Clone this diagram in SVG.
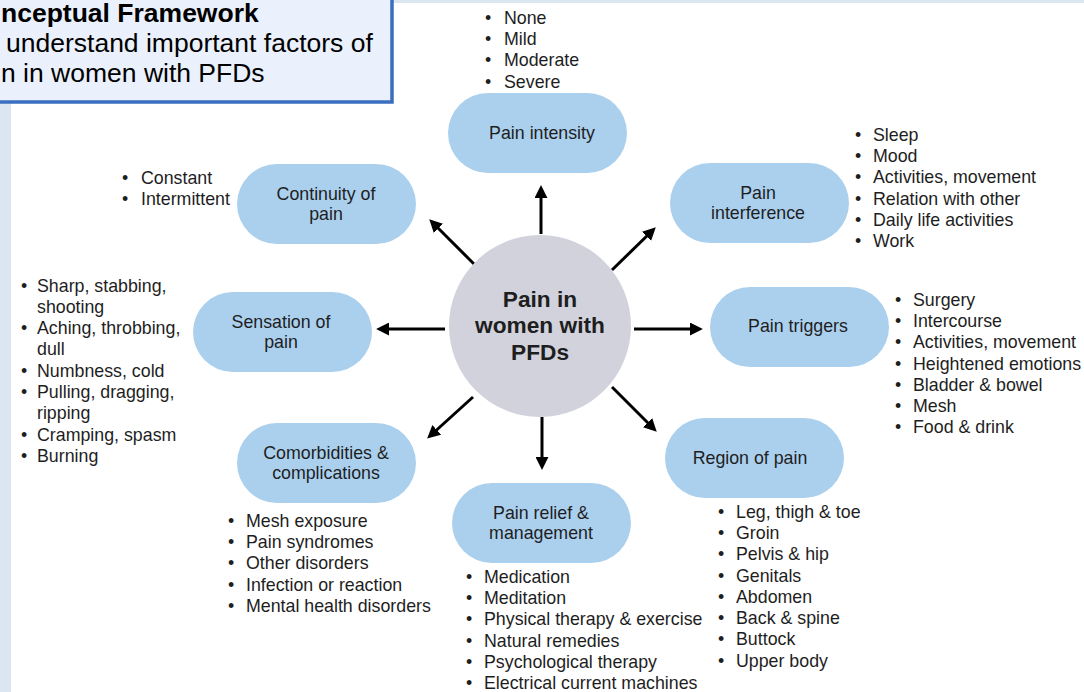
<svg xmlns="http://www.w3.org/2000/svg" width="1084" height="692" viewBox="0 0 1084 692">
<defs>
<marker id="ah" viewBox="0 0 10 10" refX="7" refY="5" markerWidth="13" markerHeight="13" markerUnits="userSpaceOnUse" orient="auto">
<path d="M0,0 L10,5 L0,10 z" fill="#000"/>
</marker>
</defs>
<style>
text{font-family:"Liberation Sans",Arial,sans-serif;fill:#1e1e1e}
.lbl{font-size:17.8px;text-anchor:middle}
.li{font-size:17.8px}
.pill{fill:#abd0ee}
.arr{stroke:#000;stroke-width:3;fill:none;marker-end:url(#ah)}
.ttl{font-size:26.5px;fill:#000}
</style>
<rect x="0" y="0" width="1084" height="692" fill="#ffffff"/>
<rect x="0" y="0" width="11" height="692" fill="#dce6f2"/>
<rect x="0" y="0" width="1084" height="3" fill="#dce6f2"/>

<g id="title">
<rect x="-10" y="-10" width="402" height="112" fill="#eaf0fc" stroke="#3a6fbf" stroke-width="3.5"/>
<text class="ttl" x="1" y="22" font-weight="bold">nceptual Framework</text>
<text class="ttl" x="6" y="52">understand important factors of</text>
<text class="ttl" x="1" y="82">n in women with PFDs</text>
</g>

<g id="connectors">
<line class="arr" x1="541" y1="234" x2="541" y2="189"/>
<line class="arr" x1="474" y1="264" x2="432" y2="222"/>
<line class="arr" x1="612" y1="270" x2="653" y2="230"/>
<line class="arr" x1="445" y1="329" x2="380" y2="329"/>
<line class="arr" x1="634" y1="329" x2="699" y2="329"/>
<line class="arr" x1="473" y1="397" x2="430" y2="436"/>
<line class="arr" x1="612" y1="387" x2="654" y2="429"/>
<line class="arr" x1="542" y1="417" x2="542" y2="466"/>
</g>

<g id="center">
<circle cx="540" cy="326" r="91" fill="#d1d2dc"/>
<text x="540" y="307" font-size="22.7" font-weight="bold" text-anchor="middle" fill="#111">Pain in</text>
<text x="540" y="333" font-size="22.7" font-weight="bold" text-anchor="middle" fill="#111">women with</text>
<text x="540" y="360" font-size="22.7" font-weight="bold" text-anchor="middle" fill="#111">PFDs</text>
</g>

<g id="pain-intensity">
<rect class="pill" x="448" y="93" width="179" height="80" rx="40"/>
<text class="lbl" x="542" y="139">Pain intensity</text>
<text class="li" x="485" y="24">•</text><text class="li" x="504" y="24">None</text>
<text class="li" x="485" y="45">•</text><text class="li" x="504" y="45">Mild</text>
<text class="li" x="485" y="66">•</text><text class="li" x="504" y="66">Moderate</text>
<text class="li" x="485" y="88">•</text><text class="li" x="504" y="88">Severe</text>
</g>

<g id="continuity">
<rect class="pill" x="237" y="164" width="179" height="80" rx="40"/>
<text class="lbl" x="326" y="200">Continuity of</text>
<text class="lbl" x="326" y="220">pain</text>
<text class="li" x="122" y="184">•</text><text class="li" x="141" y="184">Constant</text>
<text class="li" x="122" y="205">•</text><text class="li" x="141" y="205">Intermittent</text>
</g>

<g id="interference">
<rect class="pill" x="670" y="163" width="179" height="80" rx="40"/>
<text class="lbl" x="758" y="199">Pain</text>
<text class="lbl" x="758" y="219">interference</text>
<text class="li" x="855" y="141">•</text><text class="li" x="873" y="141">Sleep</text>
<text class="li" x="855" y="162">•</text><text class="li" x="873" y="162">Mood</text>
<text class="li" x="855" y="183">•</text><text class="li" x="873" y="183">Activities, movement</text>
<text class="li" x="855" y="205">•</text><text class="li" x="873" y="205">Relation with other</text>
<text class="li" x="855" y="226">•</text><text class="li" x="873" y="226">Daily life activities</text>
<text class="li" x="855" y="247">•</text><text class="li" x="873" y="247">Work</text>
</g>

<g id="sensation">
<rect class="pill" x="193" y="292" width="179" height="80" rx="40"/>
<text class="lbl" x="281" y="328">Sensation of</text>
<text class="lbl" x="281" y="348">pain</text>
<text class="li" x="21" y="292">•</text><text class="li" x="37" y="292">Sharp, stabbing,</text>
<text class="li" x="37" y="313">shooting</text>
<text class="li" x="21" y="334">•</text><text class="li" x="37" y="334">Aching, throbbing,</text>
<text class="li" x="37" y="355">dull</text>
<text class="li" x="21" y="377">•</text><text class="li" x="37" y="377">Numbness, cold</text>
<text class="li" x="21" y="398">•</text><text class="li" x="37" y="398">Pulling, dragging,</text>
<text class="li" x="37" y="419">ripping</text>
<text class="li" x="21" y="441">•</text><text class="li" x="37" y="441">Cramping, spasm</text>
<text class="li" x="21" y="462">•</text><text class="li" x="37" y="462">Burning</text>
</g>

<g id="triggers">
<rect class="pill" x="710" y="287" width="179" height="80" rx="40"/>
<text class="lbl" x="798" y="332">Pain triggers</text>
<text class="li" x="895" y="306">•</text><text class="li" x="913" y="306">Surgery</text>
<text class="li" x="895" y="327">•</text><text class="li" x="913" y="327">Intercourse</text>
<text class="li" x="895" y="348">•</text><text class="li" x="913" y="348">Activities, movement</text>
<text class="li" x="895" y="370">•</text><text class="li" x="913" y="370">Heightened emotions</text>
<text class="li" x="895" y="391">•</text><text class="li" x="913" y="391">Bladder &amp; bowel</text>
<text class="li" x="895" y="412">•</text><text class="li" x="913" y="412">Mesh</text>
<text class="li" x="895" y="433">•</text><text class="li" x="913" y="433">Food &amp; drink</text>
</g>

<g id="comorbidities">
<rect class="pill" x="237" y="423" width="179" height="80" rx="40"/>
<text class="lbl" x="326" y="459">Comorbidities &amp;</text>
<text class="lbl" x="326" y="479">complications</text>
<text class="li" x="228" y="527">•</text><text class="li" x="246" y="527">Mesh exposure</text>
<text class="li" x="228" y="548">•</text><text class="li" x="246" y="548">Pain syndromes</text>
<text class="li" x="228" y="569">•</text><text class="li" x="246" y="569">Other disorders</text>
<text class="li" x="228" y="591">•</text><text class="li" x="246" y="591">Infection or reaction</text>
<text class="li" x="228" y="612">•</text><text class="li" x="246" y="612">Mental health disorders</text>
</g>

<g id="region">
<rect class="pill" x="665" y="418" width="179" height="80" rx="40"/>
<text class="lbl" x="750" y="464">Region of pain</text>
<text class="li" x="718" y="518">•</text><text class="li" x="736" y="518">Leg, thigh &amp; toe</text>
<text class="li" x="718" y="539">•</text><text class="li" x="736" y="539">Groin</text>
<text class="li" x="718" y="560">•</text><text class="li" x="736" y="560">Pelvis &amp; hip</text>
<text class="li" x="718" y="582">•</text><text class="li" x="736" y="582">Genitals</text>
<text class="li" x="718" y="603">•</text><text class="li" x="736" y="603">Abdomen</text>
<text class="li" x="718" y="624">•</text><text class="li" x="736" y="624">Back &amp; spine</text>
<text class="li" x="718" y="645">•</text><text class="li" x="736" y="645">Buttock</text>
<text class="li" x="718" y="667">•</text><text class="li" x="736" y="667">Upper body</text>
</g>

<g id="relief">
<rect class="pill" x="452" y="483" width="179" height="80" rx="40"/>
<text class="lbl" x="541" y="519">Pain relief &amp;</text>
<text class="lbl" x="541" y="539">management</text>
<text class="li" x="466" y="583">•</text><text class="li" x="484" y="583">Medication</text>
<text class="li" x="466" y="604">•</text><text class="li" x="484" y="604">Meditation</text>
<text class="li" x="466" y="625">•</text><text class="li" x="484" y="625">Physical therapy &amp; exercise</text>
<text class="li" x="466" y="647">•</text><text class="li" x="484" y="647">Natural remedies</text>
<text class="li" x="466" y="668">•</text><text class="li" x="484" y="668">Psychological therapy</text>
<text class="li" x="466" y="689">•</text><text class="li" x="484" y="689">Electrical current machines</text>
</g>
</svg>
